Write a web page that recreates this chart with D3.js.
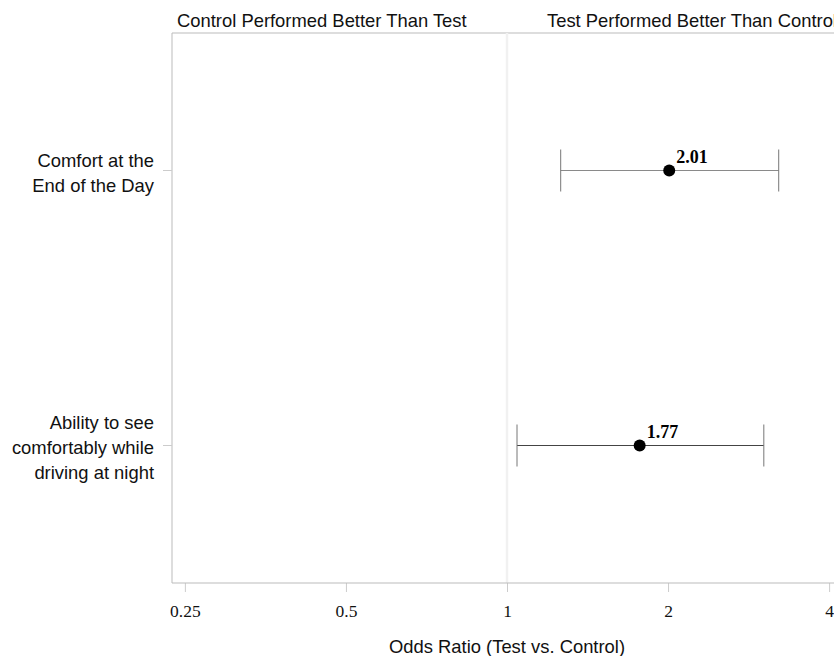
<!DOCTYPE html>
<html>
<head>
<meta charset="UTF-8">
<title>Odds Ratio</title>
<style>
    body { margin: 0; background: #fff; }
    .toplabel, .ylabel, .xtitle { font-family: Arial, 'Liberation Sans', sans-serif; font-size: 18.4px; fill: #111; }
    .xtick text { font-family: 'Times New Roman', 'Liberation Serif', serif; font-size: 17.5px; fill: #111; }
    .estlabel { font-family: 'Times New Roman', 'Liberation Serif', serif; font-size: 18px; font-weight: bold; fill: #000; }
</style>
</head>
<body>
<script src="https://d3js.org/d3.v7.min.js"></script>
<script>
    // data
    var outcomes = [
        ["Comfort at the", "End of the Day"],
        ["Ability to see", "comfortably while", "driving at night"]
    ];
    var estimates = [2.01, 1.77];
    var lowerCI = [1.26, 1.044];
    var upperCI = [3.22, 3.02];
    var barColors = ["#8a8a8a", "#444"];
    var tickValues = [0.25, 0.5, 1, 2, 4];
    var sideLabels = ["Control Performed Better Than Test", "Test Performed Better Than Control"];

    var width = 834, height = 656;
    var plot = { left: 172, right: 842, top: 33, bottom: 583 };

    var svg = d3.select("body").append("svg")
        .attr("width", width)
        .attr("height", height);

    var x = d3.scaleLog().base(2)
        .domain([Math.pow(2, -2.08), Math.pow(2, 2.08)])
        .range([plot.left, plot.right]);

    var y = d3.scaleBand()
        .domain(d3.range(outcomes.length))
        .range([plot.top, plot.bottom]);

    // frame
    svg.append("line")
        .attr("x1", plot.left).attr("x2", width)
        .attr("y1", plot.top).attr("y2", plot.top)
        .attr("stroke", "#bbb");
    svg.append("line")
        .attr("x1", plot.left).attr("x2", plot.left)
        .attr("y1", plot.top).attr("y2", plot.bottom)
        .attr("stroke", "#bbb");

    // reference line at 1
    svg.append("line")
        .attr("x1", x(1)).attr("x2", x(1))
        .attr("y1", plot.top).attr("y2", plot.bottom)
        .attr("stroke", "#f1f1f1")
        .attr("stroke-width", 2.5);

    // x axis
    var xAxis = d3.axisBottom(x)
        .tickValues(tickValues)
        .tickFormat(d3.format("~g"))
        .tickSize(9)
        .tickPadding(13);
    var gx = svg.append("g")
        .attr("class", "xtick")
        .attr("transform", "translate(0," + plot.bottom + ")")
        .call(xAxis);
    gx.select(".domain").remove();
    gx.selectAll(".tick line").attr("stroke", "#ccc");
    gx.append("line")
        .attr("x1", plot.left).attr("x2", width)
        .attr("stroke", "#bbb");

    svg.append("text")
        .attr("class", "xtitle")
        .attr("x", x(1))
        .attr("y", 653)
        .attr("text-anchor", "middle")
        .text("Odds Ratio (Test vs. Control)");

    // top labels (the right one runs off the edge, as in the original)
    svg.append("text").attr("class", "toplabel")
        .attr("x", 177).attr("y", 27)
        .text(sideLabels[0]);
    svg.append("text").attr("class", "toplabel")
        .attr("x", 547).attr("y", 27)
        .text(sideLabels[1]);

    // y labels and ticks
    var rows = svg.append("g").selectAll("g")
        .data(outcomes)
        .join("g")
        .attr("transform", function(d, i) {
            return "translate(0," + (y(i) + y.bandwidth() / 2) + ")";
        });

    rows.append("line")
        .attr("x1", plot.left - 9).attr("x2", plot.left)
        .attr("stroke", "#ccc");

    rows.append("text")
        .attr("class", "ylabel")
        .attr("text-anchor", "end")
        .selectAll("tspan")
        .data(function(d) { return d; })
        .join("tspan")
        .attr("x", 154)
        .attr("y", function(d, j, nodes) {
            return (j - (nodes.length - 1) / 2) * 25 + 8.5;
        })
        .text(function(d) { return d; });

    // error bars
    var cap = 21;
    rows.append("line")
        .attr("x1", function(d, i) { return x(lowerCI[i]); })
        .attr("x2", function(d, i) { return x(upperCI[i]); })
        .attr("stroke", function(d, i) { return barColors[i]; });
    rows.append("line")
        .attr("x1", function(d, i) { return x(lowerCI[i]); })
        .attr("x2", function(d, i) { return x(lowerCI[i]); })
        .attr("y1", -cap).attr("y2", cap)
        .attr("stroke", "#777");
    rows.append("line")
        .attr("x1", function(d, i) { return x(upperCI[i]); })
        .attr("x2", function(d, i) { return x(upperCI[i]); })
        .attr("y1", -cap).attr("y2", cap)
        .attr("stroke", "#777");

    rows.append("circle")
        .attr("cx", function(d, i) { return x(estimates[i]); })
        .attr("r", 6)
        .attr("fill", "#000");

    rows.append("text")
        .attr("class", "estlabel")
        .attr("x", function(d, i) { return x(estimates[i]) + 7; })
        .attr("y", -7.5)
        .text(function(d, i) { return d3.format(".2f")(estimates[i]); });
</script>
</body>
</html>
